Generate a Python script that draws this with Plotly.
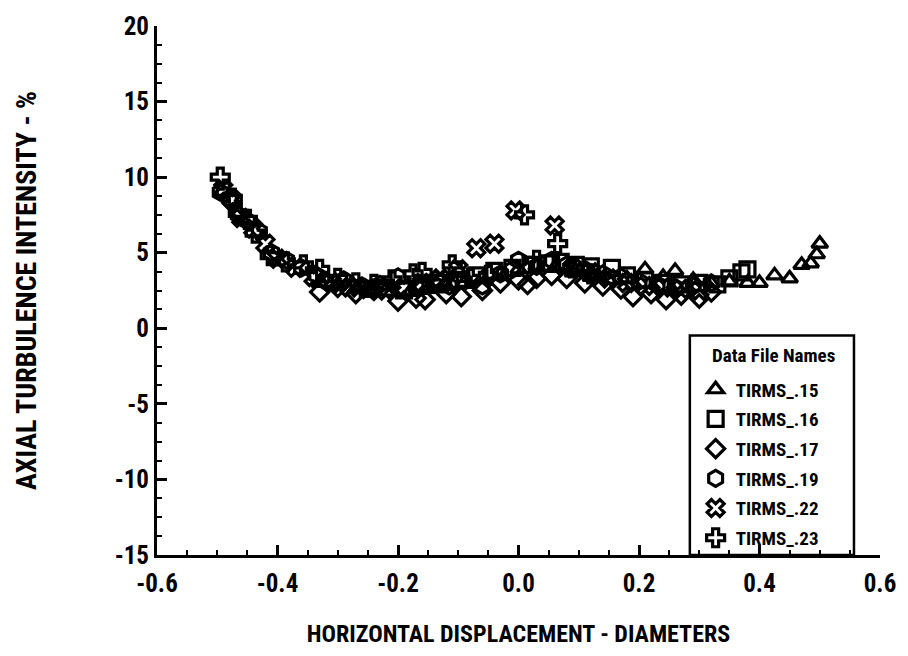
import plotly.graph_objects as go

# Axial turbulence intensity (%) vs horizontal displacement (diameters), one traverse per data file
x15 = [-0.33, -0.30, -0.27, -0.24, -0.21, -0.18, -0.15, -0.12, -0.09, -0.06, -0.03, 0.00, 0.03, 0.06,
       0.09, 0.12, 0.15, 0.18, 0.21, 0.24, 0.26, 0.29, 0.32, 0.35, 0.38, 0.40, 0.425, 0.45, 0.47,
       0.485, 0.495, 0.50]
y15 = [3.0, 2.8, 2.6, 2.5, 2.4, 2.4, 2.6, 2.8, 3.0, 3.3, 3.6, 3.9, 4.1, 4.0,
       3.7, 3.4, 3.2, 3.3, 3.9, 3.4, 3.8, 3.2, 3.0, 3.1, 3.0, 3.0, 3.5, 3.3, 4.2,
       4.3, 4.9, 5.6]

x16 = [-0.25, -0.22, -0.19, -0.16, -0.13, -0.10, -0.07, -0.04, -0.01, 0.02, 0.05, 0.07, 0.095, 0.12,
       0.155, 0.18, 0.21, 0.24, 0.27, 0.30, 0.33, 0.35, 0.37, 0.38]
y16 = [2.6, 2.7, 2.5, 2.8, 3.0, 3.2, 3.5, 3.8, 4.0, 4.2, 4.3, 4.4, 4.2, 4.1,
       4.0, 3.5, 3.2, 3.0, 2.9, 3.0, 2.9, 3.3, 3.7, 3.9]

x17 = [-0.33, -0.30, -0.27, -0.24, -0.20, -0.17, -0.155, -0.12, -0.095, -0.06, -0.03, 0.00, 0.015,
       0.03, 0.055, 0.08, 0.11, 0.14, 0.17, 0.19, 0.22, 0.245, 0.27, 0.30, 0.32]
y17 = [2.4, 2.7, 2.3, 2.5, 1.8, 2.0, 1.9, 2.3, 2.1, 2.5, 3.0, 3.2, 2.9,
       3.3, 3.5, 3.3, 3.0, 2.8, 2.6, 2.1, 2.3, 1.9, 2.2, 2.0, 2.4]

x19 = [-0.495, -0.48, -0.465, -0.45, -0.43, -0.41, -0.385, -0.36, -0.335, -0.32, -0.29, -0.26, -0.23,
       -0.20, -0.17, -0.14, -0.115, -0.09, -0.06, -0.03, -0.01, 0.00, 0.03, 0.055, 0.08, 0.11, 0.14,
       0.17, 0.20, 0.23, 0.26, 0.29, 0.32]
y19 = [9.0, 8.6, 7.5, 7.1, 6.4, 5.0, 4.5, 4.0, 3.5, 3.1, 3.2, 2.8, 2.9,
       3.4, 2.7, 2.9, 2.8, 3.1, 2.8, 3.6, 3.9, 4.5, 4.1, 4.5, 4.2, 3.9, 3.6,
       3.4, 3.1, 2.9, 2.7, 2.8, 3.0]

x22 = [-0.49, -0.475, -0.46, -0.44, -0.42, -0.40, -0.37, -0.34, -0.31, -0.28, -0.25, -0.22, -0.19,
       -0.16, -0.13, -0.10, -0.07, -0.04, -0.005, 0.06, 0.09, 0.12, 0.15, 0.18, 0.21, 0.24, 0.27,
       0.30]
y22 = [9.2, 8.5, 7.3, 6.6, 5.6, 4.6, 4.0, 3.4, 3.0, 2.7, 2.6, 2.5, 2.7,
       3.0, 3.3, 3.9, 5.3, 5.6, 7.8, 6.8, 4.0, 3.7, 3.3, 3.0, 2.8, 2.7, 2.6,
       2.5]

x23 = [-0.495, -0.485, -0.475, -0.465, -0.45, -0.437, -0.412, -0.387, -0.357, -0.33, -0.30, -0.27,
       -0.24, -0.21, -0.175, -0.16, -0.13, -0.11, -0.08, -0.05, 0.01, 0.03, 0.065, 0.09, 0.12]
y23 = [10.0, 9.0, 8.6, 7.6, 7.2, 6.3, 4.8, 4.4, 4.2, 3.9, 3.3, 3.0,
       2.9, 3.2, 3.6, 3.7, 3.0, 4.2, 3.3, 3.5, 7.5, 4.5, 5.6, 4.0, 3.6]

series = [
    ("TIRMS_.15", "triangle-up-open", 14, x15, y15),
    ("TIRMS_.16", "square-open", 15, x16, y16),
    ("TIRMS_.17", "diamond-open", 14, x17, y17),
    ("TIRMS_.19", "hexagon-open", 16, x19, y19),
    ("TIRMS_.22", "x-open", 15, x22, y22),
    ("TIRMS_.23", "cross-open", 15, x23, y23),
]

FONT = "Roboto Condensed, DejaVu Sans Condensed, sans-serif"

fig = go.Figure()
for name, sym, size, xs, ys in series:
    fig.add_trace(go.Scatter(
        x=xs, y=ys, mode="markers", name=name, legendgroup=name,
        marker=dict(symbol=sym, size=size, color="black",
                    line=dict(width=3.2, color="black")),
    ))

x_ticks = [-0.6, -0.4, -0.2, 0.0, 0.2, 0.4, 0.6]
x_labels = ["-0.6", "-0.4", "-0.2", "0.0", "0.2", "0.4", "0.6"]
y_ticks = [-15, -10, -5, 0, 5, 10, 15, 20]
y_labels = ["-15", "-10", "-5", "0", "5", "10", "15", "20"]

axis_common = dict(
    showgrid=False, zeroline=False, showline=True, linecolor="black", linewidth=3,
    ticks="inside", ticklen=10, tickwidth=2.5, tickcolor="black", mirror=False,
    tickfont=dict(family=FONT, size=25, color="black", weight="bold"),
)

fig.update_layout(
    width=908, height=656,
    margin=dict(l=157, r=24, t=23, b=98),
    paper_bgcolor="white", plot_bgcolor="white",
    font=dict(family=FONT, color="black", weight="bold"),
    xaxis=dict(range=[-0.6, 0.6], tickvals=x_ticks, ticktext=x_labels, ticklabelstandoff=4,
               minor=dict(ticks="inside", ticklen=5, tickwidth=2, tickcolor="black", dtick=0.05, tick0=0),
               title=dict(text="HORIZONTAL DISPLACEMENT - DIAMETERS", standoff=29,
                          font=dict(family=FONT, size=24, color="black", weight="bold")),
               **axis_common),
    yaxis=dict(range=[-15, 20], tickvals=y_ticks, ticktext=y_labels,
               minor=dict(ticks="inside", ticklen=5, tickwidth=2, tickcolor="black", dtick=1.25, tick0=0),
               title=dict(text="AXIAL TURBULENCE INTENSITY - %", standoff=70,
                          font=dict(family=FONT, size=28, color="black", weight="bold")),
               **axis_common),
    showlegend=True,
    legend=dict(
        x=0.745, y=0.349, xanchor="left", yanchor="top",
        bgcolor="rgba(0,0,0,0)", borderwidth=0,
        font=dict(family=FONT, size=19, color="black", weight="bold"),
        tracegroupgap=2, itemsizing="trace",
    ),
    annotations=[dict(text="Data File Names", xref="paper", yref="paper",
                      x=0.853, y=0.378, xanchor="center", yanchor="middle", showarrow=False,
                      font=dict(family=FONT, size=19, color="black", weight="bold"))],
    shapes=[dict(type="rect", xref="paper", yref="paper",
                 x0=0.737, x1=0.964, y0=0.0, y1=0.415,
                 line=dict(color="black", width=2.5), fillcolor="rgba(0,0,0,0)", layer="above")],
)

fig.write_html("out.html")
